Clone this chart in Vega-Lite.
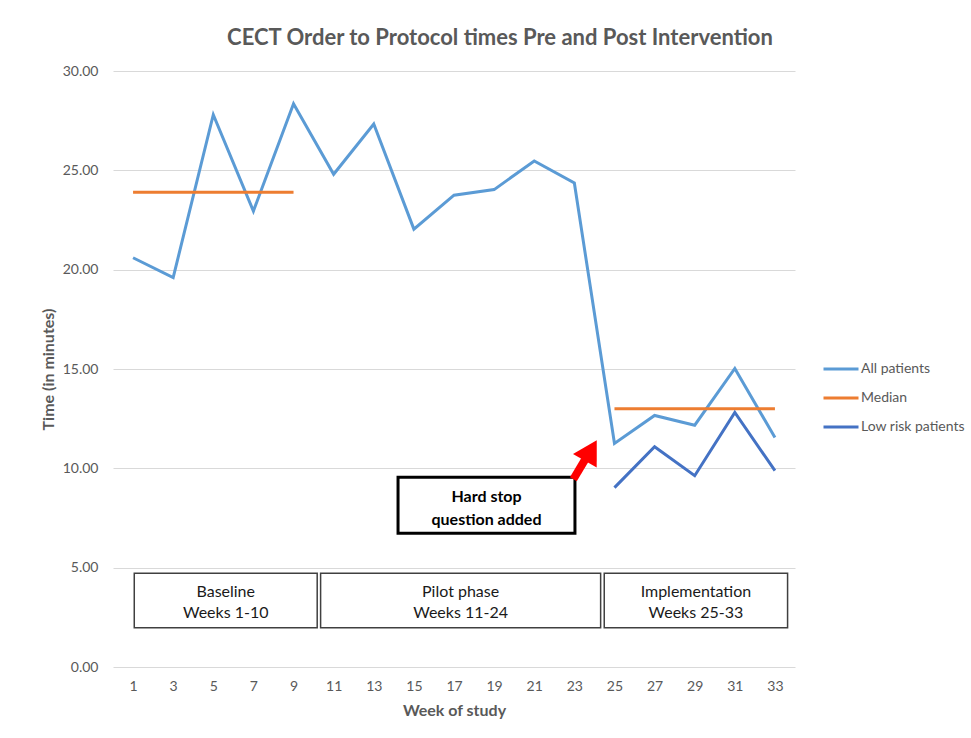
{
  "$schema": "https://vega.github.io/schema/vega-lite/v6.json",
  "width": 682,
  "height": 596,
  "autosize": {"type": "none"},
  "padding": {"left": 113, "top": 71, "right": 176, "bottom": 71},
  "background": "white",
  "config": {
    "view": {"stroke": null},
    "font": "Lato",
    "axis": {"labelFont": "Lato", "titleFont": "Lato", "labelColor": "#595959", "titleColor": "#595959"},
    "legend": {"labelFont": "Lato"}
  },
  "title": {
    "text": "CECT Order to Protocol times Pre and Post Intervention",
    "font": "Lato",
    "fontSize": 22,
    "fontWeight": "bold",
    "color": "#595959",
    "anchor": "middle",
    "dx": 46,
    "offset": 14
  },
  "datasets": {
    "lines": [
      {"series": "All patients", "seg": "all", "week": 1, "value": 20.6},
      {"series": "All patients", "seg": "all", "week": 3, "value": 19.6},
      {"series": "All patients", "seg": "all", "week": 5, "value": 27.8},
      {"series": "All patients", "seg": "all", "week": 7, "value": 22.95},
      {"series": "All patients", "seg": "all", "week": 9, "value": 28.35},
      {"series": "All patients", "seg": "all", "week": 11, "value": 24.8},
      {"series": "All patients", "seg": "all", "week": 13, "value": 27.33},
      {"series": "All patients", "seg": "all", "week": 15, "value": 22.04},
      {"series": "All patients", "seg": "all", "week": 17, "value": 23.75},
      {"series": "All patients", "seg": "all", "week": 19, "value": 24.03},
      {"series": "All patients", "seg": "all", "week": 21, "value": 25.47},
      {"series": "All patients", "seg": "all", "week": 23, "value": 24.36},
      {"series": "All patients", "seg": "all", "week": 25, "value": 11.25},
      {"series": "All patients", "seg": "all", "week": 27, "value": 12.66},
      {"series": "All patients", "seg": "all", "week": 29, "value": 12.17},
      {"series": "All patients", "seg": "all", "week": 31, "value": 15.03},
      {"series": "All patients", "seg": "all", "week": 33, "value": 11.55},
      {"series": "Median", "seg": "m1", "week": 1, "value": 23.9},
      {"series": "Median", "seg": "m1", "week": 9, "value": 23.9},
      {"series": "Median", "seg": "m2", "week": 25, "value": 13.0},
      {"series": "Median", "seg": "m2", "week": 33, "value": 13.0},
      {"series": "Low risk patients", "seg": "low", "week": 25, "value": 9.03},
      {"series": "Low risk patients", "seg": "low", "week": 27, "value": 11.09},
      {"series": "Low risk patients", "seg": "low", "week": 29, "value": 9.63},
      {"series": "Low risk patients", "seg": "low", "week": 31, "value": 12.81},
      {"series": "Low risk patients", "seg": "low", "week": 33, "value": 9.88}
    ],
    "phases": [
      {"x1": 1.06, "x2": 10.18, "y1": 4.72, "y2": 1.98, "xc": 5.62, "yc": 3.76, "label": ["Baseline", "Weeks 1-10"]},
      {"x1": 10.35, "x2": 24.31, "y1": 4.72, "y2": 1.98, "xc": 17.33, "yc": 3.76, "label": ["Pilot phase", "Weeks 11-24"]},
      {"x1": 24.49, "x2": 33.63, "y1": 4.72, "y2": 1.98, "xc": 29.06, "yc": 3.76, "label": ["Implementation", "Weeks 25-33"]}
    ],
    "note": [
      {"x1": 14.21, "x2": 23.03, "y1": 9.55, "y2": 6.73, "xc": 18.62, "yc": 8.54, "label": ["Hard stop", "question added"]}
    ],
    "arrowShaft": [
      {"x1": 22.95, "y1": 9.45, "x2": 23.6, "y2": 10.55}
    ],
    "arrowHead": [
      {"x": 23.82, "y": 10.9}
    ]
  },
  "layer": [
    {
      "data": {"name": "phases"},
      "mark": {"type": "rect", "fill": "white", "stroke": "#404040", "strokeWidth": 1.5},
      "encoding": {
        "x": {"field": "x1", "type": "quantitative", "scale": {"domain": [0, 34], "nice": false, "zero": false},
          "axis": {"values": [1,3,5,7,9,11,13,15,17,19,21,23,25,27,29,31,33], "grid": false, "domain": false, "ticks": false,
            "labelFontSize": 14, "labelPadding": 12, "title": "Week of study", "titleFontSize": 16, "titleFontWeight": "bold", "titlePadding": 9}},
        "x2": {"field": "x2"},
        "y": {"field": "y1", "type": "quantitative", "scale": {"domain": [0, 30], "nice": false},
          "axis": {"values": [0,5,10,15,20,25,30], "format": ".2f", "grid": true, "gridColor": "#D9D9D9", "gridWidth": 1, "domain": false, "ticks": false,
            "labelFontSize": 14, "labelPadding": 15, "title": "Time (in minutes)", "titleFontSize": 16, "titleFontWeight": "bold", "titlePadding": 6}},
        "y2": {"field": "y2"}
      }
    },
    {
      "data": {"name": "phases"},
      "mark": {"type": "text", "fontSize": 16, "color": "#1a1a1a", "lineHeight": 21, "baseline": "middle", "align": "center"},
      "encoding": {
        "x": {"field": "xc", "type": "quantitative"},
        "y": {"field": "yc", "type": "quantitative"},
        "text": {"field": "label"}
      }
    },
    {
      "data": {"name": "lines"},
      "mark": {"type": "line", "strokeWidth": 3},
      "encoding": {
        "x": {"field": "week", "type": "quantitative"},
        "y": {"field": "value", "type": "quantitative"},
        "detail": {"field": "seg"},
        "color": {"field": "series", "type": "nominal",
          "scale": {"domain": ["All patients", "Median", "Low risk patients"], "range": ["#5B9BD5", "#ED7D31", "#4472C4"]},
          "legend": {"title": null, "orient": "none", "legendX": 709, "legendY": 279, "symbolType": "stroke", "symbolSize": 1225,
            "symbolStrokeWidth": 3, "labelFontSize": 14, "labelColor": "#595959", "rowPadding": 3, "labelOffset": 1}}
      }
    },
    {
      "data": {"name": "note"},
      "mark": {"type": "rect", "fill": "white", "stroke": "black", "strokeWidth": 3},
      "encoding": {
        "x": {"field": "x1", "type": "quantitative"},
        "x2": {"field": "x2"},
        "y": {"field": "y1", "type": "quantitative"},
        "y2": {"field": "y2"}
      }
    },
    {
      "data": {"name": "note"},
      "mark": {"type": "text", "fontSize": 16, "fontWeight": "bold", "color": "black", "lineHeight": 23, "baseline": "middle", "align": "center"},
      "encoding": {
        "x": {"field": "xc", "type": "quantitative"},
        "y": {"field": "yc", "type": "quantitative"},
        "text": {"field": "label"}
      }
    },
    {
      "data": {"name": "arrowShaft"},
      "mark": {"type": "rule", "color": "#FF0000", "strokeWidth": 8},
      "encoding": {
        "x": {"field": "x1", "type": "quantitative"},
        "y": {"field": "y1", "type": "quantitative"},
        "x2": {"field": "x2"},
        "y2": {"field": "y2"}
      }
    },
    {
      "data": {"name": "arrowHead"},
      "mark": {"type": "point", "shape": "triangle-up", "filled": true, "color": "#FF0000", "opacity": 1, "size": 750, "angle": 30},
      "encoding": {
        "x": {"field": "x", "type": "quantitative"},
        "y": {"field": "y", "type": "quantitative"}
      }
    }
  ]
}
